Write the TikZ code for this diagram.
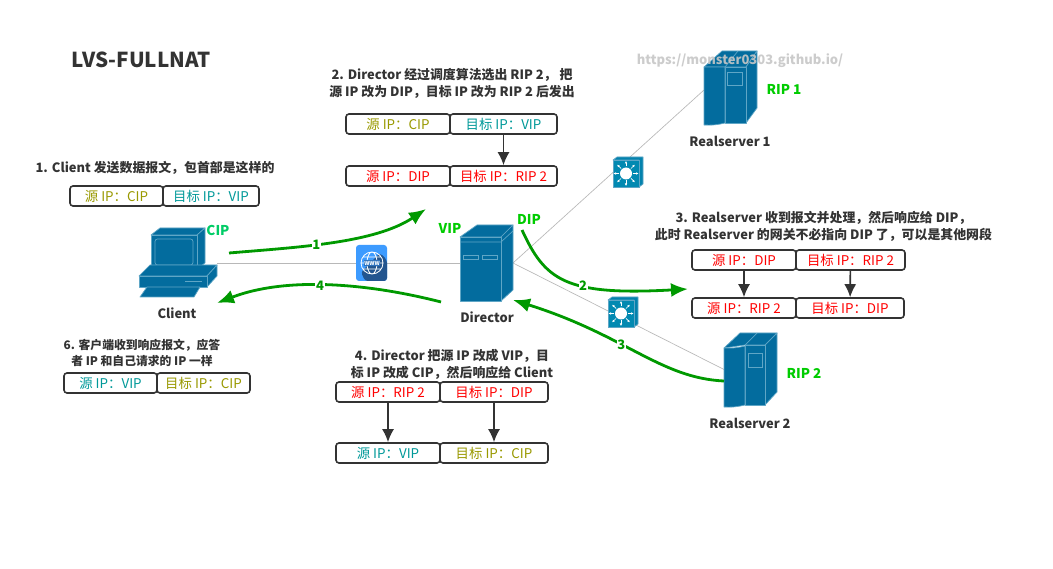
\documentclass[tikz,border=0pt]{standalone}
\usepackage{fontspec}
\setmainfont{Noto Sans CJK SC}
\usetikzlibrary{arrows.meta}
\definecolor{srv}{HTML}{036C9E}
\definecolor{srvl}{HTML}{5FA6C6}
\definecolor{flow}{HTML}{009900}
\definecolor{ink}{HTML}{333333}
\definecolor{oli}{HTML}{999900}
\definecolor{tea}{HTML}{009999}
\definecolor{brt}{HTML}{00CC00}
\definecolor{cipc}{HTML}{00CC66}
\definecolor{globeb}{HTML}{3D9BFF}
\definecolor{globes}{HTML}{23558F}
\tikzset{
  ipcell/.style={draw=ink,line width=1.6pt,rounded corners=3pt,inner sep=0pt,minimum height=20pt,font=\fontsize{13.4}{15}\selectfont},
  captext/.style={font=\fontsize{12.9}{17}\selectfont\bfseries,text=ink,align=center,inner sep=0pt},
  tagtext/.style={font=\fontsize{13.5}{15}\selectfont\bfseries,text=brt,inner sep=0pt},
  flowline/.style={draw=flow,line width=2.8pt,-{Latex[length=17pt,width=14pt]}},
  flownum/.style={font=\fontsize{13}{14}\selectfont\bfseries,text=flow,fill=white,inner sep=0.6pt},
  linkline/.style={draw=black!28,line width=0.65pt},
  downline/.style={draw=ink,line width=1.7pt,-{Latex[length=13pt,width=12pt]}},
  iconbody/.style={fill=srv,draw=srvl,line width=0.7pt,line join=round},
}
% name, x1, xm, x2, ycentre, colour, text, colour, text
\newcommand{\ipbox}[9]{%
  \pgfmathsetmacro{\ipwa}{#3-#2}\pgfmathsetmacro{\ipwb}{#4-#3}%
  \pgfmathsetmacro{\ipca}{(#2+#3)/2}\pgfmathsetmacro{\ipcb}{(#3+#4)/2}%
  \node[ipcell,minimum width=\ipwa pt,text=#6] (#1l) at (\ipca,#5) {#7};
  \node[ipcell,minimum width=\ipwb pt,text=#8] (#1r) at (\ipcb,#5) {#9};}
\newcommand{\swicon}[2]{%
 \begin{scope}[shift={(#1,#2)}]
  \path[iconbody,fill=srv!85!cyan] (0,0)--(4,-3)--(30,-3)--(30,24)--(26,27)--(26,0)--cycle;
  \path[fill=srv!80!cyan,draw=srvl,line width=.5pt] (0,0) rectangle (26,27);
  \fill[white] (13,13.5) circle (6);
  \foreach \a in {0,45,...,315}{\draw[white,line width=.7pt,-{Latex[length=2.5pt,width=2.5pt]}] (13,13.5)++(\a:7)--++(\a:5.5);}
 \end{scope}}
\begin{document}
\begin{tikzpicture}[x=1pt,y=-1pt]
\useasboundingbox[fill=white] (0,0) rectangle (1053,569);
% anchors of the gray links
\coordinate (clientP) at (217,263);
\coordinate (dirL) at (460,263);
\coordinate (dirR) at (513,263);
\coordinate (rs1P) at (704,90);
\coordinate (rs2P) at (725,370);
\draw[linkline] (clientP)--(dirL);
\draw[linkline] (dirR)--(rs1P);
\draw[linkline] (dirR)--(rs2P);
% client
\path[iconbody] (151,235)--(160,228)--(205,228)--(197,235)--cycle;
\path[iconbody] (197,235)--(205,228)--(205,263)--(197,269)--cycle;
\path[iconbody] (151,235) rectangle (197,269);
\draw[srvl,line width=.7pt,rounded corners=2.5pt] (155,239) rectangle (193,265);
\path[iconbody] (139,276)--(150,265)--(217,265)--(207,276)--cycle;
\path[iconbody] (207,276)--(217,265)--(217,276)--(207,287)--cycle;
\path[iconbody] (139,276) rectangle (207,287);
\draw[srvl,line width=1pt] (185,282)--(202,282);
\path[iconbody] (140,297)--(147,287)--(200,287)--(194,297)--cycle;
% globe
\fill[rounded corners=3pt,fill=globeb] (356,245) rectangle (387,281);
\fill[rounded corners=3pt,fill=globes] (361,272)--(380,253)--(387,260)--(387,281)--(365,281)--cycle;
\draw[white,line width=.8pt] (372,263) circle (11) ellipse (5 and 11) (361,263)--(383,263) (363,257)--(381,257) (363,269)--(381,269);
\node[font=\fontsize{5.5}{6}\selectfont\bfseries,text=white,fill=globes!60!globeb,inner sep=.5pt] (www) at (372,263) {WWW};
% director
\path[iconbody] (460,237)--(477,225)--(513,225)--(501,237)--cycle;
\path[iconbody] (501,237)--(513,225)--(513,290)--(501,301)--cycle;
\path[iconbody] (460,237) rectangle (501,301);
\draw[srvl,line width=.7pt] (460,242)--(501,242)--(513,231);
\draw[srvl,line width=.7pt] (463,255) rectangle (478,259) (482,255) rectangle (497,259);
% realserver 1
\path[iconbody] (704,67)--(722,51)--(757,51)--(746,67)--cycle;
\path[iconbody] (746,67)--(757,51)--(757,108)--(746,123)--cycle;
\path[iconbody] (725,67) rectangle (746,123);
\path[iconbody] (704,67)--(725,67)--(725,123) to[bend left=8] (704,125)--cycle;
\draw[srvl,line width=.7pt] (727,72) rectangle (742,85);
\draw[srvl,line width=.7pt] (725,67)--(738,51);
% realserver 2
\path[iconbody] (724,348)--(740,333)--(777,333)--(765,345)--(745,345)--cycle;
\path[iconbody] (765,345)--(777,333)--(777,392)--(765,405)--cycle;
\path[iconbody] (745,345) rectangle (765,405);
\path[iconbody] (724,348) to[bend right=8] (745,346)--(745,405) to[bend left=8] (724,407)--cycle;
\draw[srvl,line width=.7pt] (748,353) rectangle (762,367);
\draw[srvl,line width=.7pt] (745,345)--(757,333);
% switches
\swicon{613}{160}
\swicon{608}{300}
% labels
\node[font=\fontsize{20.6}{22}\selectfont\bfseries,text=ink,inner sep=0pt] (title) at (141,60) {LVS-FULLNAT};
\node[captext] (c1) at (155,168) {1. Client 发送数据报文，包首部是这样的};
\node[captext] (c2) at (452,83) {2. Director 经过调度算法选出 RIP 2， 把\\源 IP 改为 DIP，目标 IP 改为 RIP 2 后发出};
\node[captext] (c3) at (823.5,226) {3. Realserver 收到报文并处理，然后响应给 DIP，\\此时 Realserver 的网关不必指向 DIP 了，可以是其他网段};
\node[captext] (c4) at (452,364) {4. Director 把源 IP 改成 VIP，目\\标 IP 改成 CIP，然后响应给 Client};
\node[captext,font=\fontsize{11.8}{16}\selectfont\bfseries] (c6) at (142,353) {6. 客户端收到响应报文，应答\\者 IP 和自己请求的 IP 一样};
\node[captext] (client) at (177,313) {Client};
\node[captext] (director) at (487,317) {Director};
\node[captext] (rs1) at (730,141) {Realserver 1};
\node[captext] (rs2) at (750,423) {Realserver 2};
\node[tagtext,text=cipc] (cip) at (218,230) {CIP};
\node[tagtext] (vip) at (450,228) {VIP};
\node[tagtext] (dip) at (529,219) {DIP};
\node[tagtext] (rip1) at (784,89) {RIP 1};
\node[tagtext] (rip2) at (804,373) {RIP 2};
% boxes
\ipbox{a}{70}{163}{259}{196}{oli}{源 IP：CIP}{tea}{目标 IP：VIP}
\ipbox{b}{346}{450}{557}{124}{oli}{源 IP：CIP}{tea}{目标 IP：VIP}
\ipbox{d}{346}{450}{557}{176}{red}{源 IP：DIP}{red}{目标 IP：RIP 2}
\ipbox{e}{692}{796}{905}{260}{red}{源 IP：DIP}{red}{目标 IP：RIP 2}
\ipbox{f}{692}{796}{904}{308}{red}{源 IP：RIP 2}{red}{目标 IP：DIP}
\ipbox{g}{336}{440}{548}{392}{red}{源 IP：RIP 2}{red}{目标 IP：DIP}
\ipbox{h}{336}{440}{548}{453}{tea}{源 IP：VIP}{oli}{目标 IP：CIP}
\ipbox{k}{64}{157}{250}{383}{tea}{源 IP：VIP}{oli}{目标 IP：CIP}
\draw[downline] (br)--(dr);
\draw[downline] (el)--(fl);
\draw[downline] (er)--(fr);
\draw[downline] (gl)--(hl);
\draw[downline] (gr)--(hr);
% green flows
\coordinate (f1a) at (229,253);\coordinate (f1b) at (426,209);
\coordinate (f2a) at (522,230);\coordinate (f2b) at (688,289);
\coordinate (f3a) at (724,381);\coordinate (f3b) at (513,300);
\coordinate (f4a) at (441,302);\coordinate (f4b) at (217,303);
\draw[flowline] (f1a) .. controls (300,247) and (375,243) .. (f1b) node[flownum,pos=.41] (n1) {1};
\draw[flowline] (f2a) .. controls (545,280) and (565,296) .. (f2b) node[flownum,pos=.6] (n2) {2};
\draw[flowline] (f3a) .. controls (660,378) and (625,335) .. (f3b) node[flownum,pos=.58] (n3) {3};
\draw[flowline] (f4a) .. controls (375,285) and (290,275) .. (f4b) node[flownum,pos=.55] (n4) {4};
% watermark
\node[font=\fontsize{13}{15}\selectfont\bfseries,text=black!22,inner sep=0pt,opacity=.9] (wm) at (740,61) {https://monster0303.github.io/};
\end{tikzpicture}
\end{document}
